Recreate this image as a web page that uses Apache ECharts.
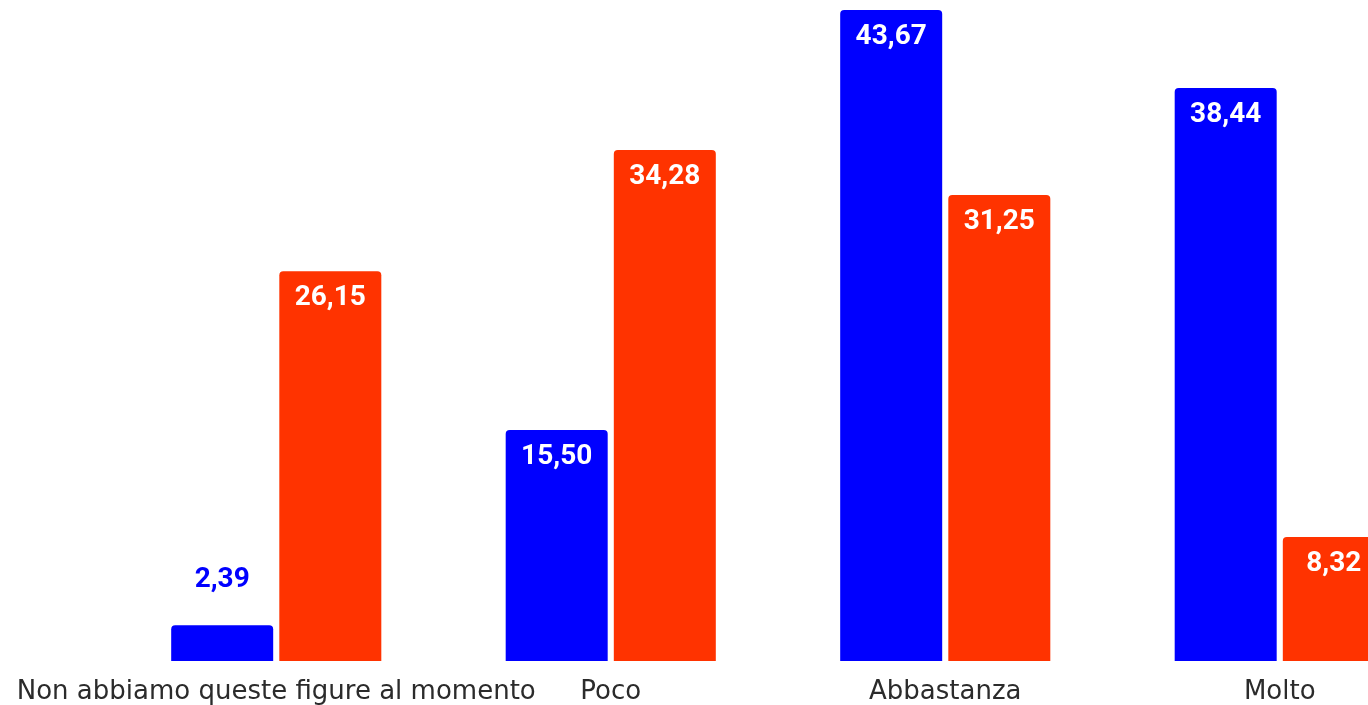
<!DOCTYPE html>
<html>
<head>
<meta charset="utf-8">
<script src="https://cdn.jsdelivr.net/npm/echarts@6/dist/echarts.min.js"></script>
<style>
html,body{margin:0;padding:0;background:#fff;overflow:hidden}
#chart{width:1368px;height:705px}
</style>
</head>
<body>
<div id="chart"></div>
<script>
const categories = ["Non abbiamo queste figure al momento", "Poco", "Abbastanza", "Molto"];
const seriesBlue = [2.39, 15.50, 43.67, 38.44];
const seriesRed = [26.15, 34.28, 31.25, 8.32];

const BLUE = '#0000ff';
const RED = '#ff3300';

function fmt(v) { return v.toFixed(2).replace('.', ','); }

const labelBase = {
  show: true,
  position: 'insideTop',
  distance: 13,
  color: '#ffffff',
  fontFamily: 'Roboto',
  fontWeight: 'bold',
  fontSize: 28,
  formatter: p => fmt(p.value)
};

function buildData(values, color) {
  return values.map(v => {
    const item = { value: v };
    if (v < 5) {
      item.label = { position: 'top', distance: 31, color: color };
    }
    return item;
  });
}

const chart = echarts.init(document.getElementById('chart'), null, { renderer: 'canvas' });
chart.setOption({
  animation: false,
  backgroundColor: '#ffffff',
  grid: { left: 109, width: 1338, top: 5, bottom: 44, containLabel: false, outerBoundsMode: 'none' },
  xAxis: {
    type: 'category',
    data: categories,
    axisLine: { show: false },
    axisTick: { show: false },
    axisLabel: {
      interval: 0,
      margin: 18,
      color: '#2b2b2b',
      fontFamily: 'DejaVu Sans',
      fontSize: 26
    }
  },
  yAxis: {
    type: 'value',
    min: 0,
    max: 44,
    show: false,
    splitLine: { show: false }
  },
  series: [
    {
      type: 'bar',
      data: buildData(seriesBlue, BLUE),
      barWidth: 102,
      barGap: '6%',
      itemStyle: { color: BLUE, borderRadius: [4, 4, 0, 0] },
      label: labelBase
    },
    {
      type: 'bar',
      data: buildData(seriesRed, RED),
      barWidth: 102,
      barGap: '6%',
      itemStyle: { color: RED, borderRadius: [4, 4, 0, 0] },
      label: labelBase
    }
  ]
});
</script>
</body>
</html>
